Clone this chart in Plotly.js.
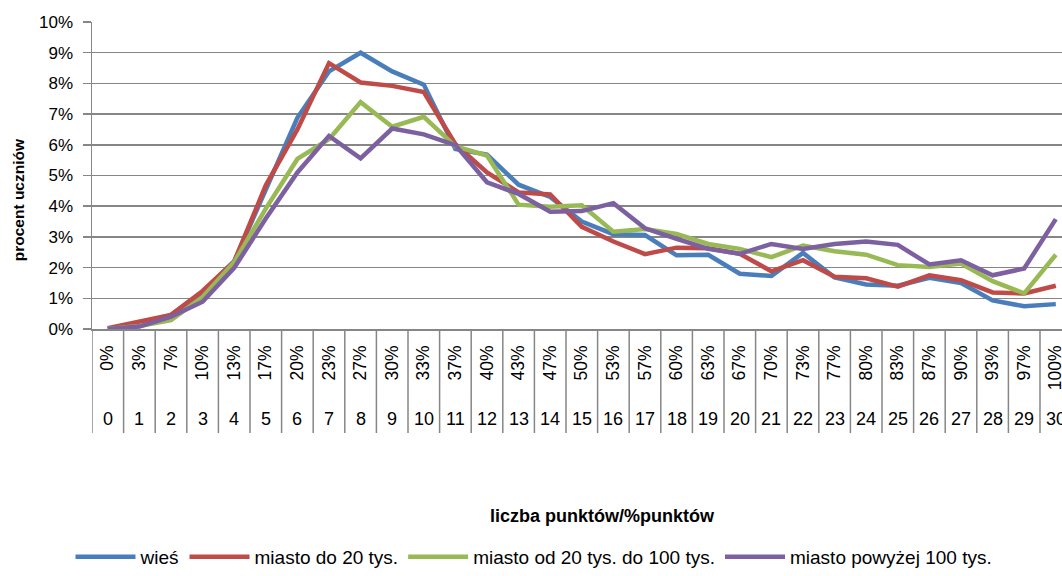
<!DOCTYPE html>
<html>
<head>
<meta charset="utf-8">
<script src="https://cdn.plot.ly/plotly-3.0.1.min.js"></script>
<style>html,body{margin:0;padding:0;background:#fff;}#chart{width:1062px;height:576px;}</style>
</head>
<body>
<div id="chart"></div>
<script>
const categories = [0,1,2,3,4,5,6,7,8,9,10,11,12,13,14,15,16,17,18,19,20,21,22,23,24,25,26,27,28,29,30];
const pctLabels = ['0%','3%','7%','10%','13%','17%','20%','23%','27%','30%','33%','37%','40%','43%','47%','50%','53%','57%','60%','63%','67%','70%','73%','77%','80%','83%','87%','90%','93%','97%','100%'];
const numLabels = ['0','1','2','3','4','5','6','7','8','9','10','11','12','13','14','15','16','17','18','19','20','21','22','23','24','25','26','27','28','29','30'];
const yTickVals = [0,1,2,3,4,5,6,7,8,9,10];
const yTickText = ['0%','1%','2%','3%','4%','5%','6%','7%','8%','9%','10%'];

const wies = [0, 0.2, 0.45, 1.2, 2.2, 4.5, 6.88, 8.39, 9.0, 8.39, 7.96, 5.86, 5.68, 4.7, 4.3, 3.5, 3.09, 3.06, 2.4, 2.42, 1.8, 1.73, 2.48, 1.68, 1.45, 1.41, 1.67, 1.5, 0.93, 0.74, 0.81];
const miasto20 = [0.03, 0.25, 0.46, 1.24, 2.2, 4.68, 6.5, 8.66, 8.03, 7.92, 7.72, 6.02, 5.1, 4.45, 4.38, 3.33, 2.85, 2.44, 2.65, 2.63, 2.45, 1.88, 2.24, 1.7, 1.65, 1.38, 1.75, 1.59, 1.19, 1.16, 1.41];
const miasto20do100 = [0, 0.1, 0.29, 1.04, 2.18, 3.92, 5.54, 6.18, 7.39, 6.59, 6.91, 5.95, 5.65, 4.05, 3.98, 4.03, 3.17, 3.26, 3.1, 2.77, 2.61, 2.34, 2.72, 2.53, 2.42, 2.08, 2.02, 2.13, 1.56, 1.16, 2.42];
const miasto100 = [0, 0.08, 0.4, 0.89, 1.99, 3.6, 5.1, 6.29, 5.56, 6.53, 6.34, 5.99, 4.78, 4.4, 3.82, 3.84, 4.1, 3.28, 2.94, 2.61, 2.45, 2.77, 2.61, 2.77, 2.85, 2.74, 2.1, 2.24, 1.75, 1.97, 3.58];

const seriesNames = ['wieś', 'miasto do 20 tys.', 'miasto od 20 tys. do 100 tys.', 'miasto powyżej 100 tys.'];
const seriesData = [wies, miasto20, miasto20do100, miasto100];
const colors = ['#4A7EBB', '#BE4B48', '#98B954', '#7D60A0'];

const FONT = 'Liberation Sans, Arial, sans-serif';

const traces = seriesData.map((d, i) => ({
  x: categories, y: d, type: 'scatter', mode: 'lines', name: seriesNames[i],
  line: {color: colors[i], width: 4.5}
}));

const W = 1062, H = 576;
const mL = 92, mT = 22, mB = 244;
const plotH = H - mT - mB;

const shapes = categories.map(c => ({
  type: 'line', xref: 'x', yref: 'paper', x0: c - 0.5, x1: c - 0.5, y0: 0, y1: -105 / plotH,
  line: {color: '#868686', width: 1.5}
}));

const annotations = categories.map((c, i) => ({
  x: c, xref: 'x', y: -(423 - 332) / plotH, yref: 'paper', text: numLabels[i],
  showarrow: false, xanchor: 'center', yanchor: 'middle', font: {family: FONT, size: 18, color: '#000'}
}));
annotations.push({
  text: '<b>liczba punktów/%punktów</b>', xref: 'paper', yref: 'paper',
  x: (602 - mL) / (W - mL), y: -(521 - 332) / plotH, showarrow: false,
  xanchor: 'center', yanchor: 'middle', font: {family: FONT, size: 18, color: '#000'}
});
annotations.push({
  text: '<b>procent uczniów</b>', xref: 'paper', yref: 'paper', textangle: -90,
  x: (18 - mL) / (W - mL), y: (332 - 202) / plotH, showarrow: false,
  xanchor: 'center', yanchor: 'middle', font: {family: FONT, size: 15.5, color: '#000'}
});

const layout = {
  width: W, height: H,
  margin: {l: mL, r: 0, t: mT, b: mB, pad: 0},
  paper_bgcolor: '#fff', plot_bgcolor: '#fff',
  font: {family: FONT, size: 17, color: '#000'},
  showlegend: true,
  legend: {
    orientation: 'h', x: (534 - mL) / (W - mL), xanchor: 'center',
    y: -(563 - 332) / plotH, yanchor: 'middle',
    font: {family: FONT, size: 19, color: '#000'}, itemwidth: 60, tracegroupgap: 0
  },
  xaxis: {
    range: [-0.5, -0.5 + (W - mL) / 31.6],
    tickvals: categories, ticktext: pctLabels, tickangle: -90,
    tickfont: {family: FONT, size: 17.5, color: '#000'},
    ticklabelstandoff: 8, ticklabeloverflow: 'allow',
    showgrid: false, zeroline: false, showline: true, linecolor: '#868686', linewidth: 1.5,
    ticks: '', fixedrange: true
  },
  yaxis: {
    range: [0, 10], tickvals: yTickVals, ticktext: yTickText,
    tickfont: {family: FONT, size: 17, color: '#000'},
    ticklabelstandoff: 6,
    showgrid: true, gridcolor: '#868686', gridwidth: 1.5,
    zeroline: false, showline: true, linecolor: '#868686', linewidth: 1.5,
    ticks: 'outside', ticklen: 8, tickcolor: '#868686', tickwidth: 1.5,
    fixedrange: true
  },
  shapes: shapes,
  annotations: annotations
};

Plotly.newPlot('chart', traces, layout, {displayModeBar: false, staticPlot: true});
</script>
</body>
</html>
